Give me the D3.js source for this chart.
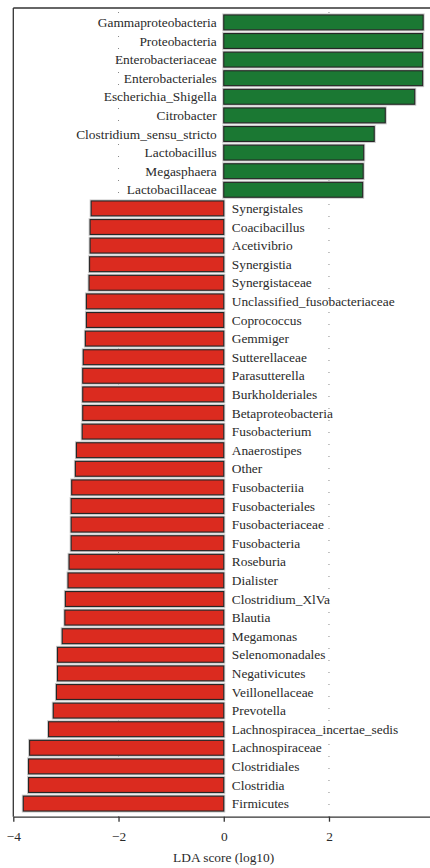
<!DOCTYPE html>
<meta charset="utf-8" />
<script src="https://d3js.org/d3.v7.min.js"></script>
<style>
  body { margin: 0; background: #fff; }
  text { font-family: "Liberation Serif", "DejaVu Serif", serif; fill: #2a2a2a; }
</style>
<div id="chart"></div>
<script>
  // taxa, top to bottom
  const taxa = [
    "Gammaproteobacteria", "Proteobacteria", "Enterobacteriaceae", "Enterobacteriales",
    "Escherichia_Shigella", "Citrobacter", "Clostridium_sensu_stricto", "Lactobacillus",
    "Megasphaera", "Lactobacillaceae",
    "Synergistales", "Coacibacillus", "Acetivibrio", "Synergistia", "Synergistaceae",
    "Unclassified_fusobacteriaceae", "Coprococcus", "Gemmiger", "Sutterellaceae",
    "Parasutterella", "Burkholderiales", "Betaproteobacteria", "Fusobacterium",
    "Anaerostipes", "Other", "Fusobacteriia", "Fusobacteriales", "Fusobacteriaceae",
    "Fusobacteria", "Roseburia", "Dialister", "Clostridium_XlVa", "Blautia",
    "Megamonas", "Selenomonadales", "Negativicutes", "Veillonellaceae", "Prevotella",
    "Lachnospiracea_incertae_sedis", "Lachnospiraceae", "Clostridiales", "Clostridia",
    "Firmicutes"
  ];
  const ldaScores = [
    3.79, 3.78, 3.78, 3.78, 3.63, 3.07, 2.86, 2.66, 2.65, 2.64,
    -2.52, -2.54, -2.54, -2.55, -2.56, -2.61, -2.61, -2.63, -2.67, -2.68,
    -2.68, -2.68, -2.69, -2.80, -2.82, -2.89, -2.90, -2.90, -2.90, -2.94,
    -2.96, -3.01, -3.02, -3.07, -3.16, -3.16, -3.18, -3.24, -3.33, -3.69,
    -3.71, -3.71, -3.81
  ];
  const xTicks = [-4, -2, 0, 2];
  const gridValues = [-2, 2];

  const data = taxa.map((name, i) => ({ name: name, score: ldaScores[i] }));

  const W = 430, H = 868;
  const plotLeft = 13.3, plotRight = 430, plotTop = 8, axisY = 816.7;

  const svg = d3.select("#chart").append("svg")
    .attr("width", W)
    .attr("height", H);

  const x = d3.scaleLinear().domain([-4, 3.92]).range([plotLeft, plotRight]);
  const y = d3.scaleBand().domain(taxa).range([13.1, 812.9])
    .paddingInner(0.2).paddingOuter(0.1);

  // dotted grid
  svg.selectAll(".grid")
    .data(gridValues)
    .join("line")
    .attr("class", "grid")
    .attr("x1", d => x(d)).attr("x2", d => x(d))
    .attr("y1", plotTop + 4).attr("y2", axisY)
    .attr("stroke", "#888")
    .attr("stroke-width", 1)
    .attr("stroke-dasharray", "1,11");

  // frame: top and left
  svg.append("line")
    .attr("x1", plotLeft).attr("x2", plotRight)
    .attr("y1", plotTop).attr("y2", plotTop)
    .attr("stroke", "#333").attr("stroke-width", 1.3);
  svg.append("line")
    .attr("x1", plotLeft).attr("x2", plotLeft)
    .attr("y1", plotTop).attr("y2", axisY)
    .attr("stroke", "#333").attr("stroke-width", 1.3);

  // bars: light halo then dark outline
  const bars = svg.append("g");
  bars.selectAll(".halo")
    .data(data)
    .join("rect")
    .attr("class", "halo")
    .attr("x", d => x(Math.min(0, d.score)))
    .attr("y", d => y(d.name))
    .attr("width", d => Math.abs(x(d.score) - x(0)))
    .attr("height", y.bandwidth())
    .attr("fill", "none")
    .attr("stroke", "#c8c8c8")
    .attr("stroke-width", 3);
  bars.selectAll(".bar")
    .data(data)
    .join("rect")
    .attr("class", "bar")
    .attr("x", d => x(Math.min(0, d.score)))
    .attr("y", d => y(d.name))
    .attr("width", d => Math.abs(x(d.score) - x(0)))
    .attr("height", y.bandwidth())
    .attr("fill", d => d.score > 0 ? "#1b7833" : "#db2b1f")
    .attr("stroke", "#262626")
    .attr("stroke-width", 1.1);

  // labels
  svg.selectAll(".label")
    .data(data)
    .join("text")
    .attr("class", "label")
    .attr("x", d => d.score > 0 ? x(0) - 7 : x(0) + 8)
    .attr("y", d => y(d.name) + y.bandwidth() / 2)
    .attr("dy", "0.35em")
    .attr("text-anchor", d => d.score > 0 ? "end" : "start")
    .style("font-size", "13.4px")
    .text(d => d.name);

  // x axis
  const xAxis = svg.append("g")
    .attr("transform", `translate(0, ${axisY})`)
    .call(d3.axisBottom(x).tickValues(xTicks).tickSize(5).tickSizeOuter(0)
      .tickFormat(d => d < 0 ? "\u2212" + Math.abs(d) : d));
  xAxis.select(".domain").attr("stroke", "#333").attr("stroke-width", 1.3);
  xAxis.selectAll(".tick line").attr("stroke", "#333").attr("stroke-width", 1.3);
  xAxis.selectAll(".tick text")
    .attr("dy", "0.35em")
    .attr("y", 20)
    .style("font-family", "'Liberation Serif', serif")
    .style("font-size", "13.4px")
    .attr("fill", "#2a2a2a");

  svg.append("text")
    .attr("x", (plotLeft + plotRight) / 2 + 2)
    .attr("y", 857)
    .attr("dy", "0.35em")
    .attr("text-anchor", "middle")
    .style("font-size", "13.4px")
    .text("LDA score (log10)");
</script>
